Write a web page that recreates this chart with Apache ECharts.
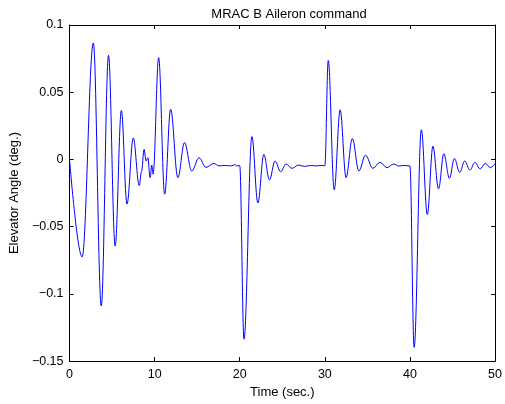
<!DOCTYPE html>
<html>
<head>
<meta charset="utf-8">
<script src="https://cdn.jsdelivr.net/npm/echarts@6/dist/echarts.min.js"></script>
<style>
html,body{margin:0;padding:0;background:#fff;}
#chart{width:505px;height:404px;}
</style>
</head>
<body>
<div id="chart"></div>
<script>
var timeSec = [
  0, 1.48, 2.8, 3.73, 4.58, 5.36, 6.09, 6.75, 7.49, 8.19, 8.46, 8.76, 9.0, 9.2, 9.47, 9.67, 9.82,
  10.47, 11.18, 11.88, 12.73, 13.51, 14.36, 15.22, 16.03, 16.93, 17.6, 18.3, 19.0, 19.43, 19.6, 20.0,
  20.5, 21.43, 22.13, 22.83, 23.49, 24.15, 24.8, 25.43, 26.13, 26.9, 27.6, 28.3, 29.0, 29.6, 30.0,
  30.4, 31.1, 31.8, 32.49, 33.23, 34.0, 34.78, 35.64, 36.49, 37.3, 38.08, 38.7, 39.3, 40.0,
  40.49, 41.34, 42.04, 42.7, 43.36, 43.98, 44.64, 45.22, 45.85, 46.43, 47.05, 47.63, 48.25, 48.84, 49.46, 50
];
// Elevator angle (deg.) at each time
var elevatorDeg = [
  0, -0.0725, 0.0867, -0.109, 0.0774, -0.0644, 0.0364, -0.0332, 0.016, -0.0194, -0.009, 0.0075, -0.0012, 0.0013, -0.0135, -0.0042, -0.011,
  0.0757, -0.0258, 0.0373, -0.0135, 0.0125, -0.0086, 0.0012, -0.0059, -0.003, -0.0048, -0.0045, -0.0048, -0.0038, -0.0048, -0.0046,
  -0.1337, 0.017, -0.0324, 0.0037, -0.0152, -0.0012, -0.0091, -0.0034, -0.0066, -0.0042, -0.0052, -0.0045, -0.0048, -0.0044, -0.0047,
  0.0737, -0.0226, 0.0369, -0.0135, 0.0155, -0.0086, 0.0032, -0.0066, -0.0022, -0.0061, -0.0034, -0.0049, -0.0045, -0.0048,
  -0.1398, 0.0221, -0.041, 0.0098, -0.0219, 0.0042, -0.014, 0.0007, -0.0096, -0.0012, -0.0079, -0.0022, -0.0071, -0.003, -0.0061, -0.003
];
var xTickLabels = ['0', '10', '20', '30', '40', '50'];
var yTickLabels = ['\u22120.15', '\u22120.1', '\u22120.05', '0', '0.05', '0.1'];
var titleText = 'MRAC B Aileron command';
var xName = 'Time (sec.)';
var yName = 'Elevator Angle (deg.)';

var points = timeSec.map(function (t, i) { return [t, elevatorDeg[i]]; });
var FONT = '"Liberation Sans", Arial, sans-serif';
var TXT = '#000';

function yLabel(v) {
  var idx = Math.round((v + 0.15) / 0.05);
  return yTickLabels[idx] !== undefined ? yTickLabels[idx] : '';
}
function xLabel(v) {
  var idx = Math.round(v / 10);
  return xTickLabels[idx] !== undefined ? xTickLabels[idx] : '';
}

var axisLineStyle = { show: true, onZero: false, lineStyle: { color: '#000', width: 1 } };
var tickStyle = { show: true, inside: true, length: 4, lineStyle: { color: '#000', width: 1 } };

var chart = echarts.init(document.getElementById('chart'), null, { renderer: 'canvas' });
chart.setOption({
  animation: false,
  backgroundColor: '#fff',
  title: {
    text: titleText,
    left: 284,
    top: 3,
    textAlign: 'center',
    textStyle: { fontFamily: FONT, fontSize: 13, fontWeight: 'normal', color: TXT }
  },
  grid: { left: 69, right: 7, top: 25, bottom: 41, containLabel: false },
  xAxis: [
    {
      type: 'value', position: 'bottom', min: 0, max: 50, interval: 10,
      axisLine: axisLineStyle, axisTick: tickStyle, splitLine: { show: false },
      axisLabel: { margin: 7, fontFamily: FONT, fontSize: 12.5, color: TXT, formatter: xLabel, showMinLabel: true, showMaxLabel: true },
      name: xName, nameLocation: 'middle', nameGap: 21,
      nameTextStyle: { fontFamily: FONT, fontSize: 13, color: TXT }
    },
    {
      type: 'value', position: 'top', min: 0, max: 50, interval: 10,
      axisLine: axisLineStyle, axisTick: tickStyle, splitLine: { show: false },
      axisLabel: { show: false }
    }
  ],
  yAxis: [
    {
      type: 'value', position: 'left', min: -0.15, max: 0.1, interval: 0.05,
      axisLine: axisLineStyle, axisTick: tickStyle, splitLine: { show: false },
      axisLabel: { margin: 6, fontFamily: FONT, fontSize: 12.5, color: TXT, formatter: yLabel, showMinLabel: true, showMaxLabel: true },
      name: yName, nameLocation: 'middle', nameGap: 43, nameRotate: 90,
      nameTextStyle: { fontFamily: FONT, fontSize: 13, color: TXT }
    },
    {
      type: 'value', position: 'right', min: -0.15, max: 0.1, interval: 0.05,
      axisLine: axisLineStyle, axisTick: tickStyle, splitLine: { show: false },
      axisLabel: { show: false }
    }
  ],
  series: [
    {
      type: 'line',
      xAxisIndex: 0,
      yAxisIndex: 0,
      data: points,
      showSymbol: false,
      symbol: 'none',
      smooth: 0.37,
      smoothMonotone: 'x',
      lineStyle: { color: '#0000ff', width: 1 },
      clip: true
    }
  ]
});
</script>
</body>
</html>
